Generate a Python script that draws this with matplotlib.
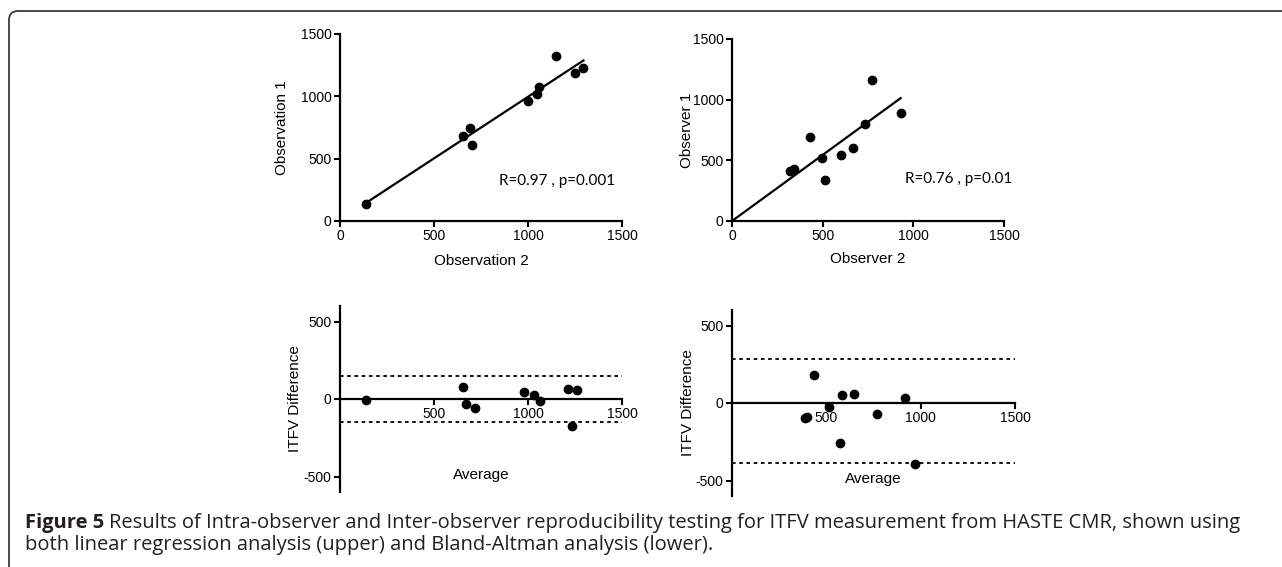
import numpy as np
import matplotlib
matplotlib.use("Agg")
import matplotlib.pyplot as plt
from matplotlib.patches import FancyBboxPatch

plt.rcParams['font.family'] = ['Liberation Sans', 'DejaVu Sans']
plt.rcParams['axes.unicode_minus'] = False

# intra-observer: observation 2 (x) vs observation 1 (y)
obs2 = [140, 655, 690, 700, 1000, 1050, 1060, 1150, 1250, 1295]
obs1 = [140, 685, 745, 610, 960, 1015, 1075, 1320, 1185, 1230]
# inter-observer: observer 2 (x) vs observer 1 (y)
observer2 = [320, 340, 430, 495, 515, 600, 670, 735, 770, 930]
observer1 = [415, 430, 690, 520, 335, 545, 605, 800, 1165, 890]

# Bland-Altman, intra-observer
ba_intra_avg = [140, 655, 670, 720, 980, 1030, 1065, 1215, 1260, 1235]
ba_intra_diff = [-5, 80, -30, -55, 45, 25, -15, 65, 60, -175]
ba_intra_limits = [146, -150]
# Bland-Altman, inter-observer
ba_inter_avg = [385, 395, 435, 515, 570, 585, 645, 770, 915, 970]
ba_inter_diff = [-95, -90, 180, -25, -260, 50, 60, -70, 35, -395]
ba_inter_limits = [283, -388]

stats = ["R=0.97 , p=0.001", "R=0.76 , p=0.01"]

W, H = 1282, 567
fig = plt.figure(figsize=(W / 100, H / 100), dpi=100)

def px_axes(x0, x1, ytop, ybot):
    return fig.add_axes([x0 / W, 1 - ybot / H, (x1 - x0) / W, (ybot - ytop) / H])

def style(ax):
    for s in ['top', 'right']:
        ax.spines[s].set_visible(False)
    for s in ['left', 'bottom']:
        ax.spines[s].set_linewidth(1.6)
    ax.tick_params(direction='out', length=4, width=1.5, labelsize=10, pad=2)
    ax.patch.set_alpha(0)

ax1 = px_axes(340, 622, 34, 221)
ax2 = px_axes(732, 1004, 39, 221)
ax3 = px_axes(340, 622, 306, 492)
ax4 = px_axes(732, 1015, 310, 496)

# scatter + regression panels
for ax, x, y, xl, yl, st, through_origin in [
        (ax1, obs2, obs1, "Observation 2", "Observation 1", stats[0], False),
        (ax2, observer2, observer1, "Observer 2", "Observer 1", stats[1], True)]:
    style(ax)
    x = np.array(x, float)
    y = np.array(y, float)
    ax.plot(x, y, 'o', color='black', ms=6, clip_on=False)
    if through_origin:
        k = (x * y).sum() / (x * x).sum()
        xx = np.array([0, x.max()])
        ax.plot(xx, k * xx, color='black', lw=1.6)
    else:
        k, b = np.polyfit(x, y, 1)
        xx = np.array([x.min(), x.max()])
        ax.plot(xx, k * xx + b, color='black', lw=1.6)
    ax.set_xlim(0, 1500)
    ax.set_ylim(0, 1500)
    ax.set_xticks([0, 500, 1000, 1500])
    ax.set_yticks([0, 500, 1000, 1500])
    ax.set_xlabel(xl, fontsize=11)
    ax.set_ylabel(yl, fontsize=11)

ax1.xaxis.set_label_coords(0.5, -0.175)
ax2.xaxis.set_label_coords(0.5, -0.17)
ax1.yaxis.set_label_coords(-0.18, 0.5)
ax2.yaxis.set_label_coords(-0.14, 0.5)
ax1.text(846, 321, stats[0], fontsize=11, family='Lato', va='center')
ax2.text(954, 346, stats[1], fontsize=11, family='Lato', va='center')

# Bland-Altman panels
for ax, a, d, lim in [(ax3, ba_intra_avg, ba_intra_diff, ba_intra_limits),
                      (ax4, ba_inter_avg, ba_inter_diff, ba_inter_limits)]:
    style(ax)
    ax.spines['bottom'].set_position(('data', 0))
    ax.plot(a, d, 'o', color='black', ms=6, clip_on=False)
    for v in lim:
        ax.plot([0, 1500], [v, v], color='black', lw=1.3, ls=(0, (2, 2)))
    ax.set_xlim(0, 1500)
    ax.set_ylim(-600, 600)
    ax.set_xticks([500, 1000, 1500])
    ax.set_yticks([-500, 0, 500])
    ax.set_ylabel("ITFV Difference", fontsize=11)
    ax.text(750, -490, "Average", fontsize=11, ha='center', va='center')

ax3.yaxis.set_label_coords(-0.135, 0.5)
ax4.yaxis.set_label_coords(-0.13, 0.5)

# frame around the figure
frame = FancyBboxPatch((0.09, -0.5), 15, (H - 11) / 100 + 0.5,
                       boxstyle="round,pad=0,rounding_size=0.09",
                       transform=fig.dpi_scale_trans, fill=False,
                       edgecolor='#3a3a3a', lw=1.3)
fig.add_artist(frame)

# caption
cap_col = '#231f20'
t1 = fig.text(25 / W, 1 - 528 / H, "Figure 5", family='Open Sans', weight='bold',
              fontsize=14.5, va='baseline', color=cap_col)
fig.canvas.draw()
bb = t1.get_window_extent()
fig.text((bb.x1 + 5) / W, 1 - 528 / H,
         "Results of Intra-observer and Inter-observer reproducibility testing for ITFV "
         "measurement from HASTE CMR, shown using",
         family='Open Sans', fontsize=14.5, va='baseline', color=cap_col)
fig.text(25 / W, 1 - 550 / H,
         "both linear regression analysis (upper) and Bland-Altman analysis (lower).",
         family='Open Sans', fontsize=14.5, va='baseline', color=cap_col)

fig.savefig("out.png", dpi=100)
